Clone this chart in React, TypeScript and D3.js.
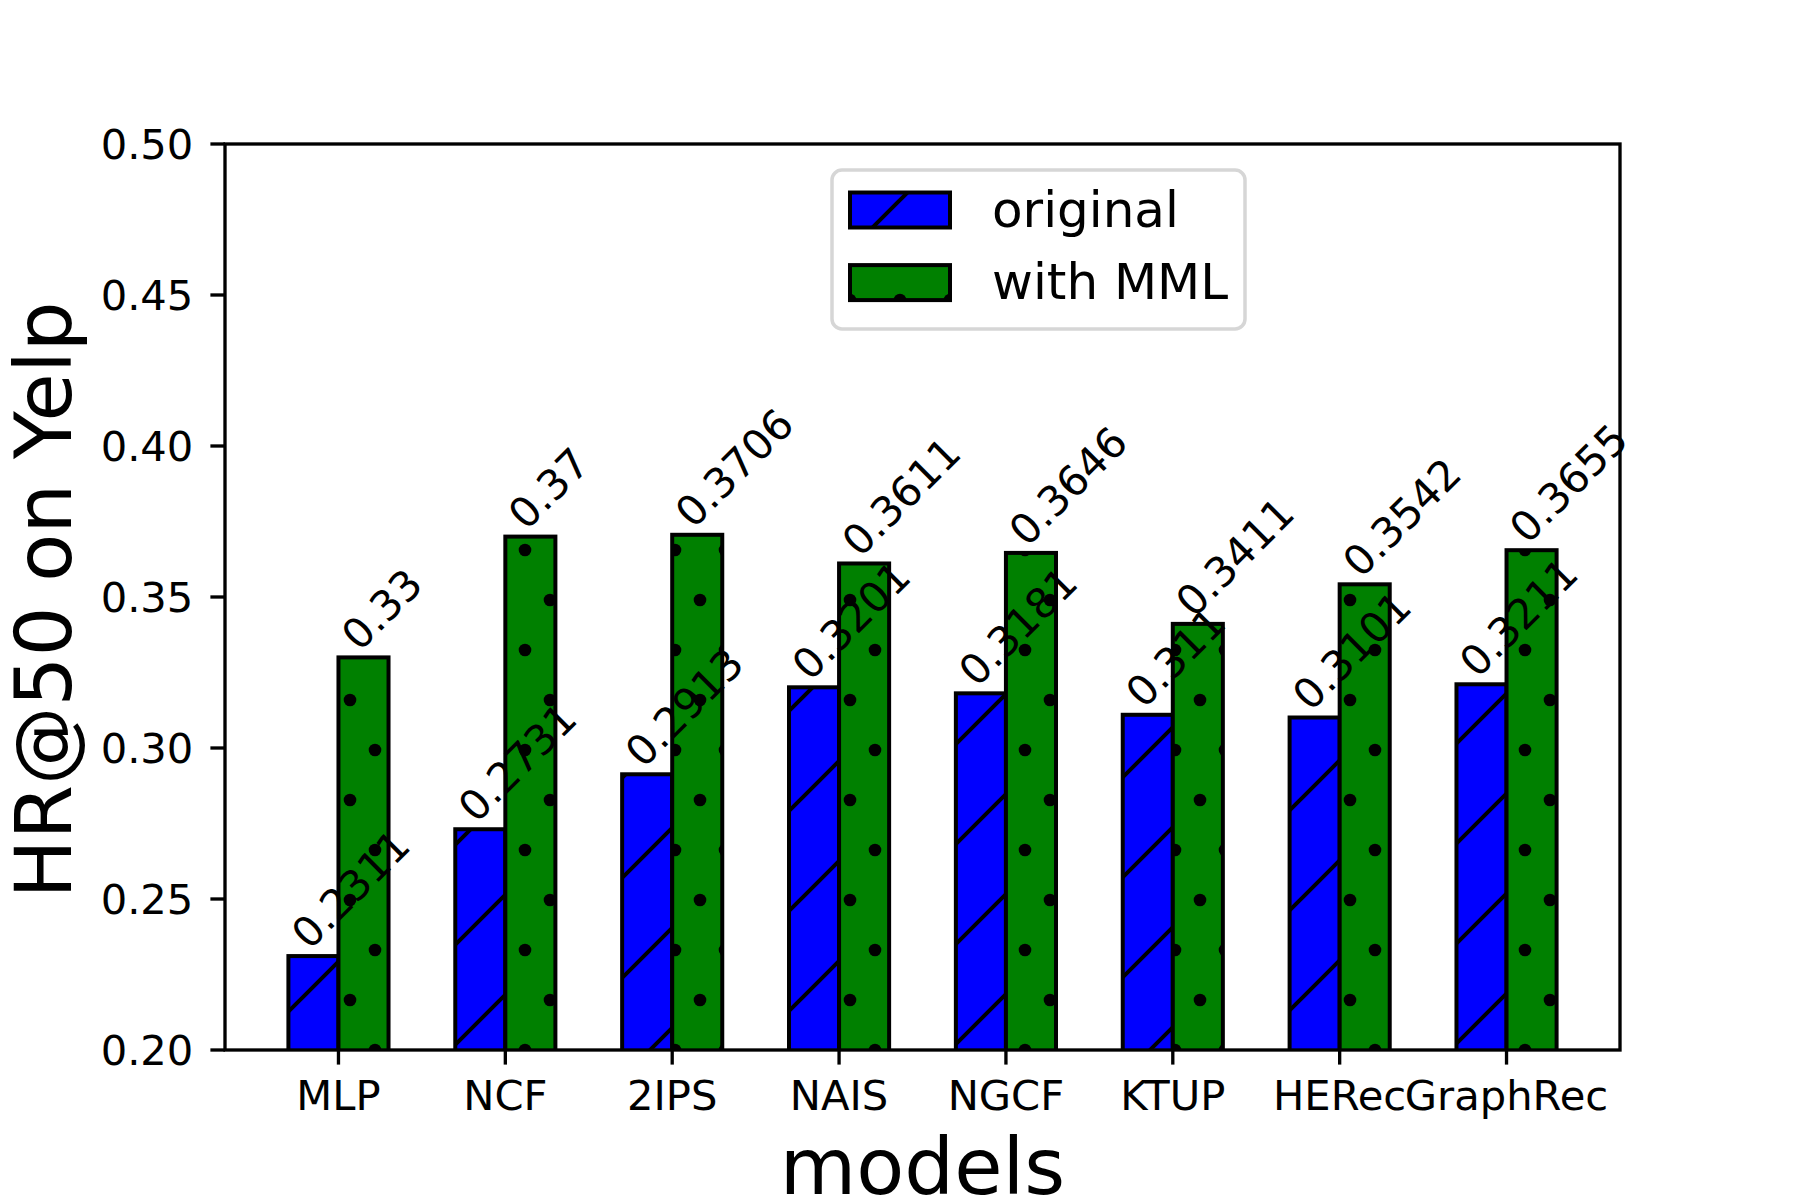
import { scaleLinear, range } from "d3";

const models = ["MLP", "NCF", "2IPS", "NAIS", "NGCF", "KTUP", "HERec", "GraphRec"];
const original = [0.2311, 0.2731, 0.2913, 0.3201, 0.3181, 0.311, 0.3101, 0.3211];
const withMML = [0.33, 0.37, 0.3706, 0.3611, 0.3646, 0.3411, 0.3542, 0.3655];
const originalLabels = ["0.2311", "0.2731", "0.2913", "0.3201", "0.3181", "0.311", "0.3101", "0.3211"];
const mmlLabels = ["0.33", "0.37", "0.3706", "0.3611", "0.3646", "0.3411", "0.3542", "0.3655"];
const yTicks = [0.2, 0.25, 0.3, 0.35, 0.4, 0.45, 0.5];
const seriesNames = ["original", "with MML"];

const W = 1800;
const H = 1200;
const FONT = "DejaVu Sans, Liberation Sans, sans-serif";

export default function App() {
  // axes box, as in a default matplotlib figure
  const left = 225, right = 1620, top = 144, bottom = 1050;
  const barW = 0.3;

  const x = scaleLinear().domain([-0.68, 7.68]).range([left, right]);
  const y = scaleLinear().domain([0.2, 0.5]).range([bottom, top]);

  const tickLen = 14.6;
  const tickFont = 41.67;

  const series = [
    { values: original, labels: originalLabels, fill: "#0000ff", pattern: "url(#hatchSlash)", offset: -barW },
    { values: withMML, labels: mmlLabels, fill: "#008000", pattern: "url(#hatchDots)", offset: 0 },
  ];

  return (
    <svg
      width={W}
      height={H}
      viewBox={`0 0 ${W} ${H}`}
      style={{ position: "absolute", left: 0, top: 0, background: "#fff" }}
      fontFamily={FONT}
    >
      <defs>
        <pattern id="hatchSlash" patternUnits="userSpaceOnUse" x={0} y={0} width={100} height={100}>
          <path d="M-10,110 L110,-10 M-10,10 L10,-10 M90,110 L110,90" stroke="#000" strokeWidth={4} />
        </pattern>
        <pattern id="hatchDots" patternUnits="userSpaceOnUse" x={0} y={0} width={50} height={100}>
          {[[0, 0], [50, 0], [0, 100], [50, 100], [25, 50]].map(([cx, cy], i) => (
            <circle key={i} cx={cx} cy={cy} r={6.3} fill="#000" />
          ))}
        </pattern>
        <clipPath id="axesClip">
          <rect x={left} y={top} width={right - left} height={bottom - top} />
        </clipPath>
      </defs>

      <rect x={0} y={0} width={W} height={H} fill="#fff" />

      {/* barras */}
      <g clipPath="url(#axesClip)">
        {series.map((s, si) =>
          s.values.map((v, i) => {
            const x0 = x(i + s.offset);
            const x1 = x(i + s.offset + barW);
            const y0 = y(v);
            const y1 = y(0);
            return (
              <g key={`${si}-${i}`}>
                <rect x={x0} y={y0} width={x1 - x0} height={y1 - y0} fill={s.fill} />
                <rect x={x0} y={y0} width={x1 - x0} height={y1 - y0} fill={s.pattern} />
                <rect x={x0} y={y0} width={x1 - x0} height={y1 - y0} fill="none" stroke="#000" strokeWidth={4} />
              </g>
            );
          })
        )}
      </g>

      {/* etiquetas de valor */}
      {series.map((s, si) =>
        s.values.map((v, i) => {
          const bx = x(i + s.offset) + 21;
          const by = y(v) - 5;
          return (
            <text
              key={`l-${si}-${i}`}
              transform={`translate(${bx},${by}) rotate(-45)`}
              fontSize={tickFont}
              fill="#000"
            >
              {s.labels[i]}
            </text>
          );
        })
      )}

      {/* marco */}
      <rect x={left} y={top} width={right - left} height={bottom - top} fill="none" stroke="#000" strokeWidth={3.33} />

      {/* eje Y */}
      {yTicks.map((t) => (
        <g key={t}>
          <line x1={left - tickLen} x2={left} y1={y(t)} y2={y(t)} stroke="#000" strokeWidth={3.33} />
          <text x={left - tickLen - 17} y={y(t) + 14.5} textAnchor="end" fontSize={tickFont} fill="#000">
            {t.toFixed(2)}
          </text>
        </g>
      ))}

      {/* eje X */}
      {range(models.length).map((i) => (
        <g key={models[i]}>
          <line x1={x(i)} x2={x(i)} y1={bottom} y2={bottom + tickLen} stroke="#000" strokeWidth={3.33} />
          <text x={x(i)} y={1110} textAnchor="middle" fontSize={tickFont} fill="#000">
            {models[i]}
          </text>
        </g>
      ))}

      <text x={(left + right) / 2} y={1194} textAnchor="middle" fontSize={78.5} fill="#000">
        models
      </text>
      <text transform={`translate(71,${(top + bottom) / 2 + 3}) rotate(-90)`} textAnchor="middle" fontSize={78.5} fill="#000">
        HR@50 on Yelp
      </text>

      {/* leyenda */}
      <rect x={832} y={170} width={413} height={159} rx={10} fill="#fff" fillOpacity={0.8} stroke="#d6d6d6" strokeWidth={3.5} />
      {series.map((s, si) => {
        const ry = 192.5 + si * 72.6;
        return (
          <g key={`lg-${si}`}>
            <rect x={850} y={ry} width={100} height={35} fill={s.fill} />
            <rect x={850} y={ry} width={100} height={35} fill={s.pattern} />
            <rect x={850} y={ry} width={100} height={35} fill="none" stroke="#000" strokeWidth={4} />
            <text x={992} y={226.7 + si * 72.6} fontSize={50} fill="#000">
              {seriesNames[si]}
            </text>
          </g>
        );
      })}
    </svg>
  );
}
